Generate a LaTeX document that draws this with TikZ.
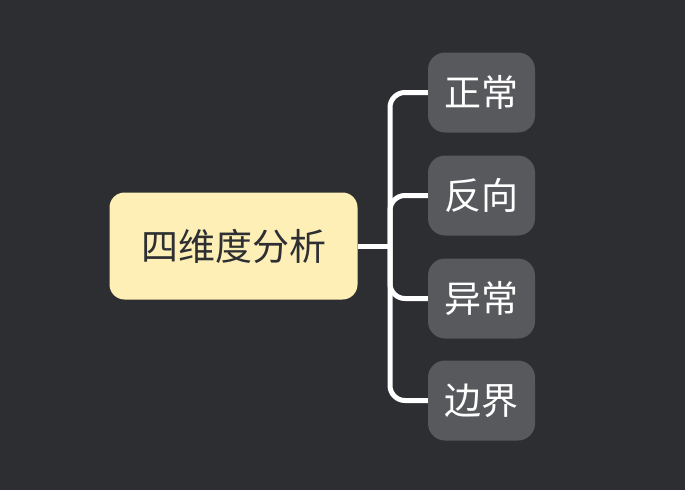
\documentclass[tikz,border=0pt]{standalone}
\usepackage{fontspec}
\newfontfamily\cjk{Noto Sans CJK SC}
\usetikzlibrary{positioning}
\definecolor{bgdark}{HTML}{2D2E32}
\definecolor{rootfill}{HTML}{FEEFB7}
\definecolor{rootink}{HTML}{2E2F33}
\definecolor{leaffill}{HTML}{58595C}

\begin{document}
\begin{tikzpicture}[x=1pt,y=-1pt,
    rootbox/.style={fill=rootfill,text=rootink,rounded corners=15pt,
      minimum width=248pt,minimum height=107pt,inner sep=0pt,
      font=\cjk\fontsize{37}{40}\selectfont},
    leafbox/.style={fill=leaffill,text=white,rounded corners=17pt,
      minimum width=107pt,minimum height=80pt,inner sep=0pt,
      font=\cjk\fontsize{37}{40}\selectfont},
    branch/.style={draw=white,line width=5pt,rounded corners=15pt}]
    \fill[bgdark] (0,0) rectangle (685,490);

    \node[rootbox] (root) at (233.5,246) {四维度分析};
    \node[leafbox] (zhengchang) at (481.5,92.5) {正常};
    \node[leafbox] (fanxiang) at (481.5,195.5) {反向};
    \node[leafbox] (yichang) at (481.5,298.5) {异常};
    \node[leafbox] (bianjie) at (481.5,400.5) {边界};

    \coordinate (fork) at (390,246);
    \draw[branch] (root.east) -- ([xshift=2pt]fork);
    \foreach \leaf in {zhengchang,fanxiang,yichang,bianjie}
      \draw[branch] (fork) |- (\leaf.west);
\end{tikzpicture}
\end{document}
